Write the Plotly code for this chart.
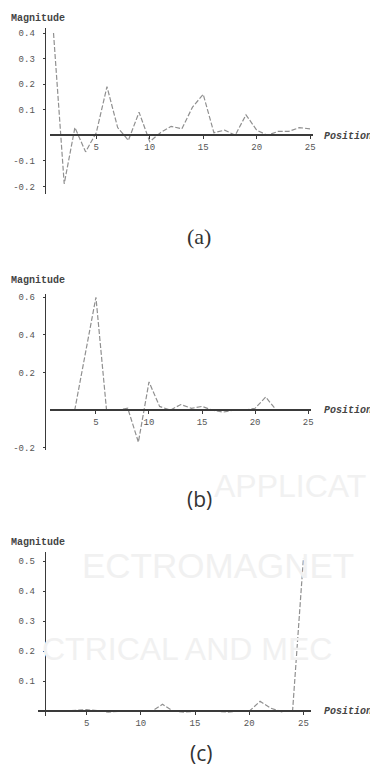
import plotly.graph_objects as go

# The page body has an 8px margin, so the figure is sized/offset to compensate.
OFF = 8
W, H = 378 - OFF, 779 - OFF

positions = list(range(1, 26))
mag_a = [0.4, -0.19, 0.03, -0.065, 0.01, 0.19, 0.03, -0.02, 0.09, -0.025,
         0.01, 0.035, 0.025, 0.11, 0.16, 0.01, 0.02, 0.0, 0.08, 0.02,
         0.0, 0.015, 0.015, 0.03, 0.025]
mag_b = [0.0, 0.0, 0.0, 0.3, 0.6, 0.0, 0.0, 0.01, -0.17, 0.15,
         0.02, 0.0, 0.03, 0.01, 0.02, 0.0, -0.01, 0.0, 0.0, 0.01,
         0.07, 0.0, 0.0, 0.0, 0.0]
mag_c = [0.0, 0.0, 0.0, 0.003, 0.005, 0.002, -0.003, 0.0, 0.0, 0.0,
         0.0, 0.023, 0.0, -0.003, 0.0, 0.0, 0.0, -0.003, 0.0, 0.0,
         0.033, 0.01, -0.002, 0.002, 0.51]

x_ticks = [5, 10, 15, 20, 25]
yt_a = [0.4, 0.3, 0.2, 0.1, -0.1, -0.2]
yt_a_text = ["0.4", "0.3", "0.2", "0.1", "-0.1", "-0.2"]
yt_b = [0.6, 0.4, 0.2, -0.2]
yt_b_text = ["0.6", "0.4", "0.2", "-0.2"]
yt_c = [0.5, 0.4, 0.3, 0.2, 0.1]
yt_c_text = ["0.5", "0.4", "0.3", "0.2", "0.1"]


def px(x):
    return (x - OFF) / W


def py(y):
    return 1 - (y - OFF) / H


MONO = "Liberation Mono, DejaVu Sans Mono, monospace"
AX = "#3a3a3a"
LINE = "#909090"

fig = go.Figure()

panels = [
    (mag_a, yt_a, yt_a_text, [-0.23, 0.42], (28, 195), 136, [0.65, 25.3], (50, 315)),
    (mag_b, yt_b, yt_b_text, [-0.21, 0.62], (295, 452), 412.5, [0.65, 25.3], (50, 313)),
    (mag_c, yt_c, yt_c_text, [-0.017, 0.53], (555, 720), 715, [0.5, 25.73], (38, 313)),
]

layout_axes = {}
for i, (vals, yt, ytt, yr, (yt_px, yb_px), zero_px, xr, (xl, xrp)) in enumerate(panels, start=1):
    xa = "x" if i == 1 else f"x{i}"
    ya = "y" if i == 1 else f"y{i}"
    fig.add_trace(go.Scatter(
        x=positions, y=vals, mode="lines", xaxis=xa, yaxis=ya,
        line=dict(color=LINE, width=1.2, dash="5px,2px"),
        showlegend=False, hoverinfo="skip",
    ))
    xkey = "xaxis" if i == 1 else f"xaxis{i}"
    ykey = "yaxis" if i == 1 else f"yaxis{i}"
    layout_axes[xkey] = dict(
        domain=[px(xl), px(xrp)], range=xr, anchor="free", position=py(zero_px),
        showline=True, linecolor=AX, linewidth=1.6, ticks="outside", ticklen=3,
        tickcolor=AX, tickvals=x_ticks, ticktext=[str(t) for t in x_ticks],
        tickfont=dict(family=MONO, size=9, color="#555"),
        showgrid=False, zeroline=False,
    )
    layout_axes[ykey] = dict(
        domain=[py(yb_px), py(yt_px)], range=yr, anchor="free", position=px(45),
        showline=True, linecolor=AX, linewidth=1.4, ticks="outside", ticklen=2,
        tickcolor=AX, tickvals=yt, ticktext=ytt, ticklabelstandoff=6,
        tickfont=dict(family=MONO, size=9, color="#555"),
        showgrid=False, zeroline=False,
    )

fig.update_layout(**layout_axes)

annotations = []
# faint bleed-through text from the reverse page
for txt, x, y, size in [("APPLICAT", 213, 488, 32),
                        ("ECTROMAGNET", 80, 568, 35),
                        ("CTRICAL AND MEC", 40, 652, 32)]:
    annotations.append(dict(text=txt, x=px(x), y=py(y), xref="paper", yref="paper",
                            xanchor="left", yanchor="middle", showarrow=False,
                            font=dict(family="Liberation Sans, Arial", size=size, color="#f1f1f1")))

for y in (19, 282, 545):
    annotations.append(dict(text="<b>Magnitude</b>", x=px(9), y=py(y), xref="paper", yref="paper",
                            xanchor="left", yanchor="middle", showarrow=False,
                            font=dict(family=MONO, size=10, color="#444")))
for y in (137, 413, 715):
    annotations.append(dict(text="<b><i>Position</i></b>", x=px(324), y=py(y), xref="paper", yref="paper",
                            xanchor="left", yanchor="middle", showarrow=False,
                            font=dict(family=MONO, size=10, color="#444")))

annotations.append(dict(text="(a)", x=px(200), y=py(238), xref="paper", yref="paper",
                        xanchor="center", yanchor="middle", showarrow=False,
                        font=dict(family="Liberation Serif, Times New Roman, serif", size=22, color="#333")))
annotations.append(dict(text="(b)", x=px(201), y=py(502), xref="paper", yref="paper",
                        xanchor="center", yanchor="middle", showarrow=False,
                        font=dict(family="Open Sans, DejaVu Sans, sans-serif", size=21, color="#333")))
annotations.append(dict(text="(c)", x=px(202), y=py(757), xref="paper", yref="paper",
                        xanchor="center", yanchor="middle", showarrow=False,
                        font=dict(family="Open Sans, DejaVu Sans, sans-serif", size=21, color="#333")))

fig.update_layout(
    width=W, height=H, margin=dict(l=0, r=0, t=0, b=0),
    paper_bgcolor="white", plot_bgcolor="rgba(0,0,0,0)",
    annotations=annotations,
)

fig.write_html("out.html")
